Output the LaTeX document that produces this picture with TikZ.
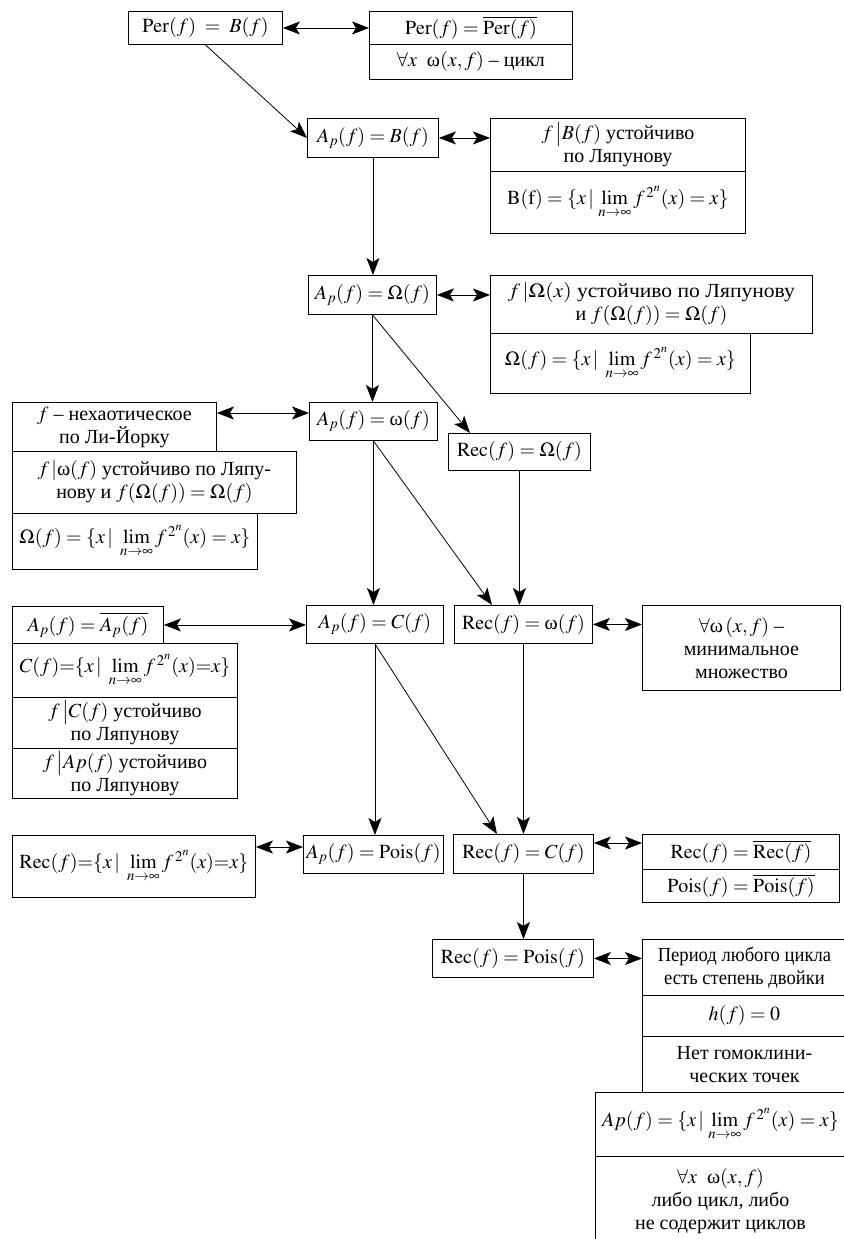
\documentclass[tikz,border=0pt]{standalone}
\usepackage{mathptmx}
\usepackage{fontspec}
\setmainfont{Liberation Serif}
\usepackage{graphicx}
\usetikzlibrary{arrows.meta}

\newcommand{\limtwo}{\lim\limits_{n\to\infty} f^{\,2^{n}}(x)}
\newcommand{\om}{\mbox{ω}}

\tikzset{
  box/.style 2 args={draw, line width=0.9pt, anchor=north west, inner sep=1pt,
    align=center, minimum width=#1pt, minimum height=#2pt,
    font=\fontsize{20}{23}\selectfont},
  arr/.style={line width=0.8pt, -{Stealth[length=17pt, width=13pt, inset=4pt]}},
  darr/.style={line width=0.8pt, {Stealth[length=17pt, width=13pt, inset=4pt]}-{Stealth[length=17pt, width=13pt, inset=4pt]}},
}

\begin{document}
\begin{tikzpicture}[x=1pt, y=-1pt]
\useasboundingbox (0,0) rectangle (843,1239);

% Ligne 1
\node[box={154}{33}] (perB) at (128,11) {$\mathrm{Per}(f) \;=\; B(f)$};
\node[box={203}{33}] (perC) at (369,11) {$\mathrm{Per}(f) = \overline{\mathrm{Per}(f)}$};
\node[box={203}{35}] (perW) at (369,44) {$\forall x\ \ \om(x, f)$ – цикл};

% A_p = B
\node[box={131}{39}] (apB) at (307,118) {$A_p(f) = B(f)$};
\node[box={255}{53}] (bLyap) at (490,118) {$f\,\bigl|B(f)$ устойчиво\\по Ляпунову};
\node[box={255}{62}] (bSet) at (490,171) {$\mathrm{B(f)} = \{x\,|\,\limtwo = x\}$};

% A_p = Omega
\node[box={128}{39}] (apO) at (308,275) {$A_p(f) = \Omega(f)$};
\node[box={322}{58}] (oLyap) at (490,275) {\scalebox{1.08}[1]{$f\,|\Omega(x)$ устойчиво по Ляпунову}\\и $f(\Omega(f)) = \Omega(f)$};
\node[box={260}{60}] (oSet) at (490,333) {$\Omega(f) = \{x\,|\ \limtwo = x\}$};

% A_p = omega
\node[box={128}{38}] (apW) at (309,402) {$A_p(f) = \om(f)$};
\node[box={204}{49}] (liYorke) at (12,402) {$f$ – нехаотическое\\по Ли-Йорку};
\node[box={284}{62}] (wLyap) at (12,451) {$f\,|\om(f)$ устойчиво по Ляпу-\\нову и $f(\Omega(f)) = \Omega(f)$};
\node[box={245}{56}] (wSet) at (12,513) {$\Omega(f) = \{x\,|\ \limtwo = x\}$};
\node[box={142}{37}] (recO) at (448,433) {$\mathrm{Rec}(f) = \Omega(f)$};

% A_p = C
\node[box={137}{38}] (apC) at (306,605) {$A_p(f) = C(f)$};
\node[box={151}{37}] (apBar) at (12,606) {$A_p(f) = \overline{A_p(f)}$};
\node[box={225}{54}] (cSet) at (12,643) {$C(f){=}\{x\,|\ \limtwo{=}x\}$};
\node[box={225}{51}] (cLyap) at (12,697) {$f\,\bigl|C(f)$ устойчиво\\по Ляпунову};
\node[box={225}{50}] (apLyap) at (12,748) {$f\,\bigl|Ap(f)$ устойчиво\\по Ляпунову};
\node[box={138}{38}] (recW) at (454,605) {$\mathrm{Rec}(f) = \om(f)$};
\node[box={198}{85}] (wMin) at (642,605) {$\forall\om\,(x,f)$ –\\минимальное\\множество};

% A_p = Pois
\node[box={243}{62}] (recSet) at (12,835) {$\mathrm{Rec}(f){=}\{x\,|\ \limtwo{=}x\}$};
\node[box={140}{38}] (apP) at (303,835) {$A_p(f) = \mathrm{Pois}(f)$};
\node[box={140}{39}] (recC) at (453,834) {$\mathrm{Rec}(f) = C(f)$};
\node[box={197}{35}] (recBar) at (642,834) {$\mathrm{Rec}(f) = \overline{\mathrm{Rec}(f)}$};
\node[box={197}{33}] (poisBar) at (642,869) {$\mathrm{Pois}(f) = \overline{\mathrm{Pois}(f)}$};

% Rec = Pois
\node[box={161}{38}] (recP) at (432,939) {$\mathrm{Rec}(f) = \mathrm{Pois}(f)$};
\node[box={204}{56}] (period) at (642,939) {\scalebox{0.93}[1]{Период любого цикла}\\\scalebox{0.93}[1]{есть степень двойки}};
\node[box={204}{41}] (entropy) at (642,995) {$h(f) = 0$};
\node[box={204}{56}] (homocl) at (642,1036) {Нет гомоклини-\\ческих точек};
\node[box={250}{64}] (apSet) at (595,1092) {$Ap(f) = \{x\,|\,\limtwo = x\}$};
\node[box={250}{90}] (cycles) at (595,1156) {$\forall x\ \ \om(x, f)$\\либо цикл, либо\\не содержит циклов};

% Flèches doubles
\draw[darr] (perB.east) -- (perC.west);
\draw[darr] (apB.east) -- (apB.east -| bLyap.west);
\draw[darr] (apO.east) -- (apO.east -| oLyap.west);
\draw[darr] ([yshift=-11pt]liYorke.north east) -- ([yshift=-11pt]apW.north west);
\draw[darr] (apBar.east) -- (apBar.east -| apC.west);
\draw[darr] (recW.east) -- (recW.east -| wMin.west);
\draw[darr] ([yshift=-12pt]recSet.north east) -- ([yshift=-12pt]apP.north west);
\draw[darr] ([yshift=-9pt]recC.north east) -- ([yshift=-9pt]recBar.north west);
\draw[darr] (recP.east) -- (recP.east -| period.west);

% Implications
\draw[arr] (perB.south) -- (apB.west);
\draw[arr] (apB.south) -- (apB.south |- apO.north);
\draw[arr] (apO.south) -- (apO.south |- apW.north);
\draw[arr] (apO.south) -- ([xshift=22pt]recO.north west);
\draw[arr] (apW.south) -- (apW.south |- apC.north);
\draw[arr] (apW.south) -- ([xshift=38pt]recW.north west);
\draw[arr] (recO.south) -- (recO.south |- recW.north);
\draw[arr] (apC.south) -- (apC.south |- apP.north);
\draw[arr] (apC.south) -- ([xshift=44pt]recC.north west);
\draw[arr] (recW.south) -- (recW.south |- recC.north);
\draw[arr] (recC.south) -- (recC.south |- recP.north);
\end{tikzpicture}
\end{document}
